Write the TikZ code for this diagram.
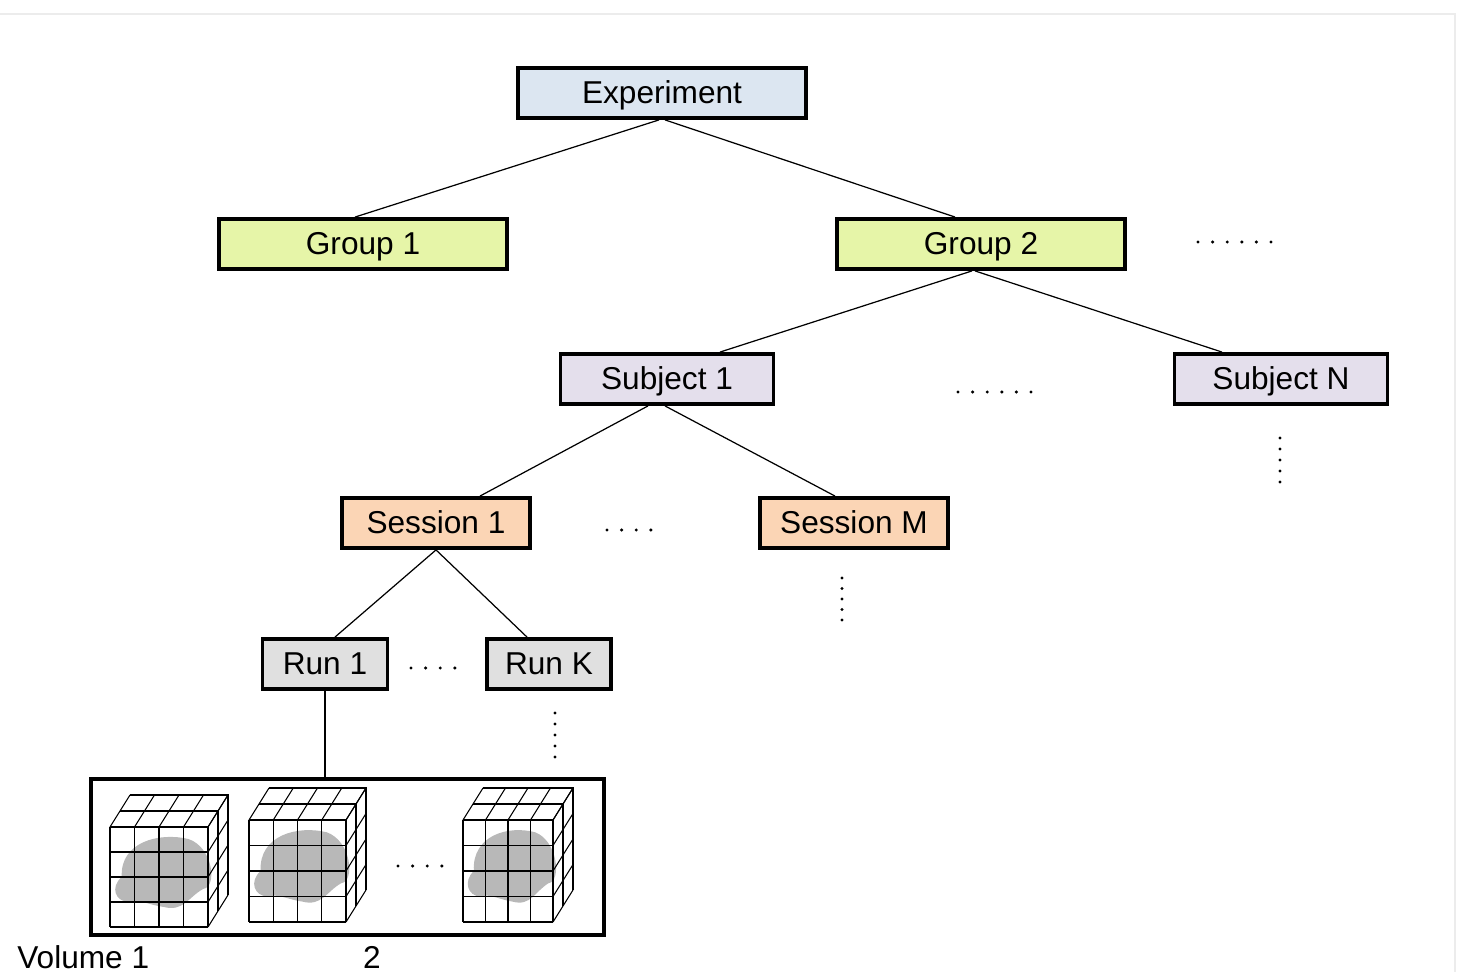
\documentclass[tikz,border=0pt]{standalone}
\usepackage{fontspec}
\setmainfont{Liberation Sans}
\definecolor{cexp}{HTML}{DCE6F1}
\definecolor{cgrp}{HTML}{E6F5A8}
\definecolor{csub}{HTML}{E4DFEC}
\definecolor{cses}{HTML}{FBD5B5}
\definecolor{crun}{HTML}{E0E0E0}
\tikzset{box/.style={draw,line width=2.2pt,minimum height=1.0cm,inner sep=0pt,text height=12pt,text depth=-1pt,font=\fontsize{18}{20}\selectfont},
 edge/.style={line width=0.7pt}}
\newcommand\voxcube[4]{% x y w h (front face, top-left corner)
 \begin{scope}[shift={(#1,#2)}]
  \fill[gray!70,opacity=0.8] (0.12*#3,0.5*#4) .. controls (0.1*#3,0.15*#4) and (0.5*#3,0.05*#4) .. (0.8*#3,0.12*#4)
   .. controls (1.05*#3,0.2*#4) and (1.1*#3,0.6*#4) .. (0.95*#3,0.62*#4)
   .. controls (0.8*#3,0.7*#4) and (0.75*#3,0.85*#4) .. (0.55*#3,0.8*#4)
   .. controls (0.4*#3,0.78*#4) and (0.3*#3,0.72*#4) .. (0.2*#3,0.75*#4)
   .. controls (0.05*#3,0.75*#4) and (0.0*#3,0.6*#4) .. cycle;
  \foreach \i in {0,1,2,3,4}{
   \draw[line width=0.6pt] (\i*#3/4,0) -- (\i*#3/4,#4);
   \draw[line width=0.6pt] (0,\i*#4/4) -- (#3,\i*#4/4);
   \draw[line width=0.6pt] (\i*#3/4,0) -- ++(20,-32);
   \draw[line width=0.6pt] (#3,\i*#4/4) -- ++(20,-32);}
  \foreach \j in {1,2}{
   \draw[line width=0.6pt] (\j*10,-\j*16) -- ++(#3,0) -- ++(0,#4);}
  \draw[line width=0.6pt] (20,-32) -- ++(#3,0) -- ++(0,#4);
 \end{scope}}
\begin{document}
\begin{tikzpicture}[x=0.02cm,y=-0.02cm]
\useasboundingbox (0,0) rectangle (1474,972);
\draw[gray!15,line width=1pt] (0,14) -- (1455,14) -- (1455,972);
\node[box,fill=cexp,minimum width=5.76cm] (exp) at (662,93) {Experiment};
\node[box,fill=cgrp,minimum width=5.76cm] (g1) at (363,244) {Group 1};
\node[box,fill=cgrp,minimum width=5.76cm] (g2) at (981,244) {Group 2};
\node[box,fill=csub,minimum width=4.26cm] (s1) at (667,379) {Subject 1};
\node[box,fill=csub,minimum width=4.26cm] (sn) at (1281,379) {Subject N};
\node[box,fill=cses,minimum width=3.76cm] (se1) at (436,523) {Session 1};
\node[box,fill=cses,minimum width=3.76cm] (sem) at (854,523) {Session M};
\node[box,fill=crun,minimum width=2.5cm] (r1) at (325,664) {Run 1};
\node[box,fill=crun,minimum width=2.48cm] (rk) at (549,664) {Run K};
\node[draw,line width=2.2pt,minimum width=10.26cm,minimum height=3.12cm,inner sep=0pt] (vol) at (347.5,857) {};
\draw[edge] ([shift={(-3,0)}]exp.south) -- ([shift={(-8,0)}]g1.north);
\draw[edge] ([shift={(3,0)}]exp.south) -- ([shift={(-26,0)}]g2.north);
\draw[edge] ([shift={(-9,0)}]g2.south) -- ([shift={(53,0)}]s1.north);
\draw[edge] ([shift={(-6,0)}]g2.south) -- ([shift={(-59,0)}]sn.north);
\draw[edge] ([shift={(-19,0)}]s1.south) -- ([shift={(44,0)}]se1.north);
\draw[edge] ([shift={(-2,0)}]s1.south) -- ([shift={(-19,0)}]sem.north);
\draw[edge] (se1.south) -- ([shift={(10,0)}]r1.north);
\draw[edge] (se1.south) -- ([shift={(-22,0)}]rk.north);
\draw[edge] (r1.south) -- (r1.south |- vol.north);
% horizontal dot rows
\foreach \x/\y/\n in {1198/242/6,958/392/6,607/530/4,411/668/4,398/866/4}{
 \foreach \k in {1,...,\n} \fill ({\x+(\k-1)*14.6},{\y}) circle (1.7);}
% vertical dot columns
\foreach \x/\a/\b in {1280/438/482,842/578/620,555/713/757}{
 \foreach \k in {0,...,4} \fill ({\x},{\a+\k*(\b-\a)/4}) circle (1.7);}
\voxcube{110}{827}{98}{100}
\voxcube{249}{820}{97}{102}
\voxcube{463}{820}{90}{102}
\node[anchor=west,font=\fontsize{18}{20}\selectfont,inner sep=0pt] (v1) at (17,957) {Volume 1};
\node[font=\fontsize{18}{20}\selectfont,inner sep=0pt] (v2) at (372,957) {2};
\end{tikzpicture}
\end{document}
